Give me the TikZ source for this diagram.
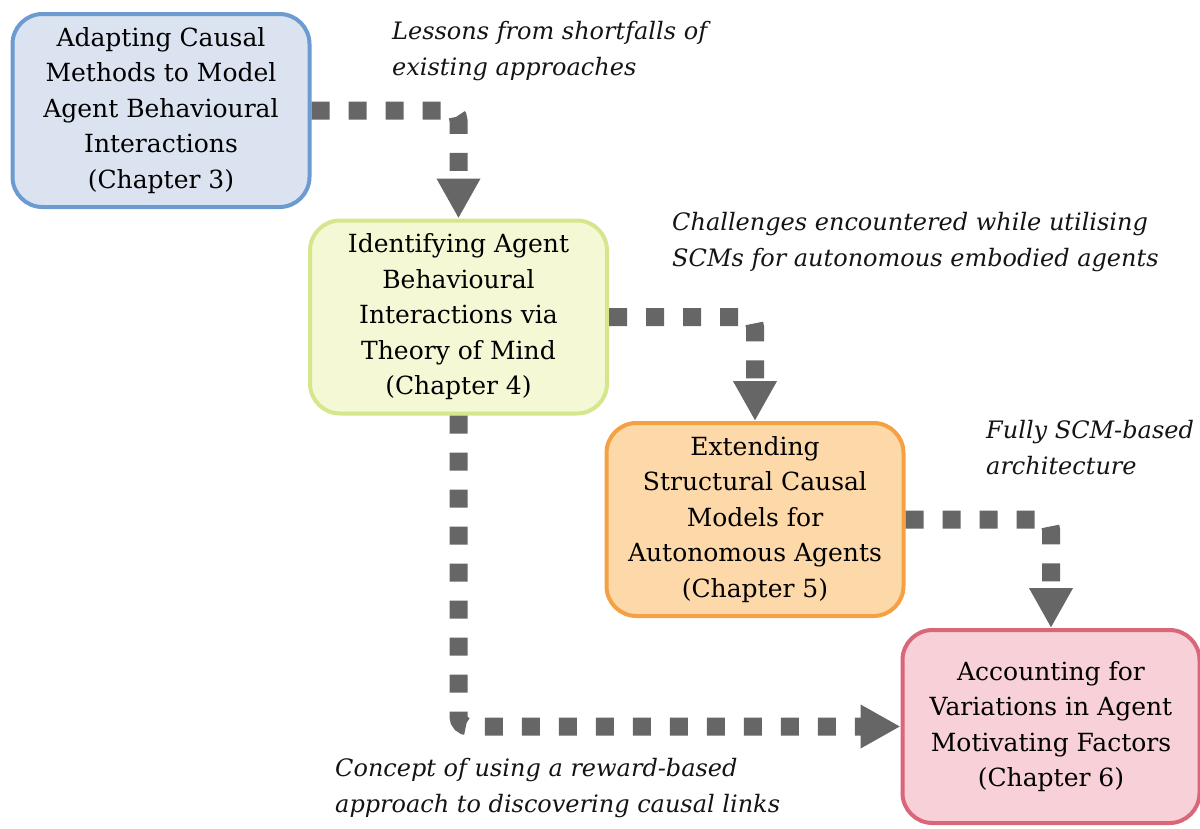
\documentclass[tikz,border=0pt]{standalone}
\usepackage{fontspec}
\setmainfont{DejaVu Serif}
\usetikzlibrary{arrows.meta}

\definecolor{blueFill}{HTML}{DAE3EF}
\definecolor{blueLine}{HTML}{6C9BD2}
\definecolor{greenFill}{HTML}{F5F8D5}
\definecolor{greenLine}{HTML}{D5E68C}
\definecolor{orangeFill}{HTML}{FDD8A9}
\definecolor{orangeLine}{HTML}{F5A043}
\definecolor{pinkFill}{HTML}{F8D0D7}
\definecolor{pinkLine}{HTML}{DA6679}
\definecolor{linkGray}{HTML}{666666}

\tikzset{
  chapter/.style={draw, line width=4pt, rounded corners=30pt,
    minimum width=297pt, minimum height=193pt, inner sep=0pt,
    align=center, font=\fontsize{25}{35.5}\selectfont, text=black},
  link/.style={draw=linkGray, line width=18pt, dash pattern=on 18pt off 19pt,
    rounded corners=10pt,
    -{Triangle[width=41pt,length=40pt]}},
  note/.style={anchor=north west, inner sep=0pt, align=left,
    font=\fontsize{24}{36}\selectfont\itshape, text=black!92}
}

\begin{document}
\begin{tikzpicture}[x=1pt,y=-1pt]
\useasboundingbox (0,0) rectangle (1200,828);

% chapter boxes
\node[chapter, fill=blueFill, draw=blueLine] (c3) at (161,110.5)
  {Adapting Causal\\Methods to Model\\Agent Behavioural\\Interactions\\(Chapter 3)};
\node[chapter, fill=greenFill, draw=greenLine] (c4) at (458.5,317)
  {Identifying Agent\\Behavioural\\Interactions via\\Theory of Mind\\(Chapter 4)};
\node[chapter, fill=orangeFill, draw=orangeLine] (c5) at (755,519.5)
  {Extending\\Structural Causal\\Models for\\Autonomous Agents\\(Chapter 5)};
\node[chapter, fill=pinkFill, draw=pinkLine] (c6) at (1051,726.5)
  {Accounting for\\Variations in Agent\\Motivating Factors\\(Chapter 6)};

% dependencies between chapters
\draw[link] (c3.east) -| (c4.north);
\draw[link] (c4.east) -| (c5.north);
\draw[link] (c5.east) -| (c6.north);
\draw[link] (c4.south) |- (c6.west);

% what each chapter passes on
\node[note] (n1) at (392,21) {Lessons from shortfalls of\\existing approaches};
\node[note] (n2) at (672,212) {Challenges encountered while utilising\\SCMs for autonomous embodied agents};
\node[note] (n3) at (986,420) {Fully SCM-based\\architecture};
\node[note] (n4) at (335,758) {Concept of using a reward-based\\approach to discovering causal links};
\end{tikzpicture}
\end{document}
